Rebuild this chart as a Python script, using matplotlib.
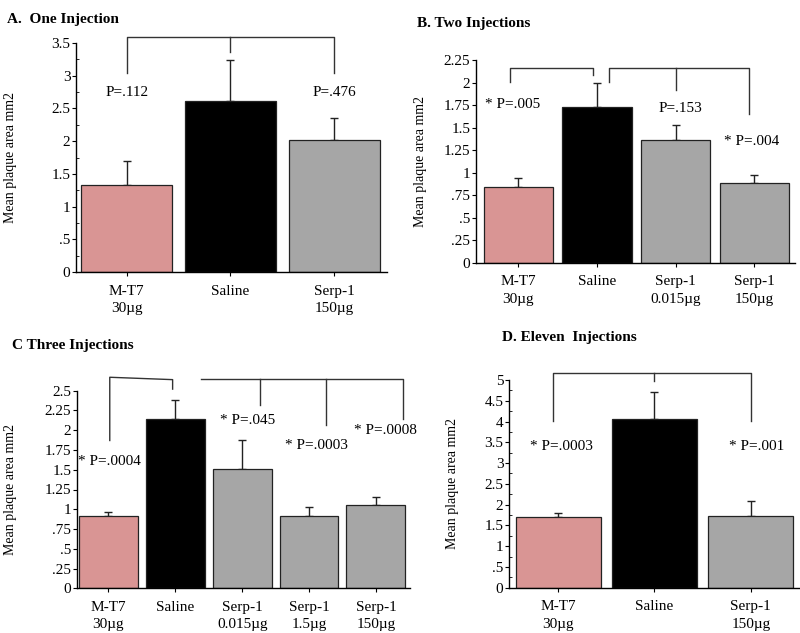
import numpy as np
import matplotlib
matplotlib.use('Agg')
import matplotlib.pyplot as plt
from matplotlib.ticker import MultipleLocator, FuncFormatter

plt.rcParams['font.family'] = ['Liberation Serif', 'DejaVu Serif']
plt.rcParams['font.size'] = 11

# Panel data
labels_a = ['M-T7\n30µg', 'Saline', 'Serp-1\n150µg']
means_a = [1.33, 2.61, 2.02]
errs_a = [0.37, 0.63, 0.33]

labels_b = ['M-T7\n30µg', 'Saline', 'Serp-1\n0.015µg', 'Serp-1\n150µg']
means_b = [0.84, 1.73, 1.36, 0.89]
errs_b = [0.10, 0.27, 0.17, 0.08]

labels_c = ['M-T7\n30µg', 'Saline', 'Serp-1\n0.015µg', 'Serp-1\n1.5µg', 'Serp-1\n150µg']
means_c = [0.92, 2.14, 1.51, 0.91, 1.05]
errs_c = [0.05, 0.24, 0.36, 0.12, 0.11]

labels_d = ['M-T7\n30µg', 'Saline', 'Serp-1\n150µg']
means_d = [1.69, 4.06, 1.73]
errs_d = [0.10, 0.66, 0.36]

colors_a = ['#d99594', '#000000', '#a6a6a6']
colors_b = ['#d99594', '#000000', '#a6a6a6', '#a6a6a6']
colors_c = ['#d99594', '#000000', '#a6a6a6', '#a6a6a6', '#a6a6a6']
colors_d = colors_a

W, H = 800, 633
fig = plt.figure(figsize=(8, 6.33), dpi=100)


def fmt(v, pos):
    if v == 0:
        return '0'
    s = '%g' % v
    if s.startswith('0.'):
        s = s[1:]
    return s


def panel(box, labels, means, errs, colors, ymax, ystep, minor, xlim, labx):
    l, r, b, t = box
    ax = fig.add_axes([l / W, 1 - b / H, (r - l) / W, (b - t) / H])
    x = np.arange(len(means))
    ax.bar(x, means, width=0.88, color=colors, edgecolor='#222222', linewidth=0.9, zorder=2)
    ax.errorbar(x, means, yerr=[np.zeros(len(errs)), errs], fmt='none',
                ecolor='#222222', elinewidth=1, capsize=3, capthick=1, zorder=1)
    ax.set_xlim(*xlim)
    ax.set_ylim(0, ymax)
    ax.yaxis.set_major_locator(MultipleLocator(ystep))
    ax.yaxis.set_minor_locator(MultipleLocator(minor))
    ax.yaxis.set_major_formatter(FuncFormatter(fmt))
    ax.set_xticks(x)
    ax.set_xticklabels(labels, fontsize=11, linespacing=1.45)
    ax.tick_params(axis='y', which='major', direction='out', length=3, pad=1, labelsize=11)
    ax.tick_params(axis='y', which='minor', direction='in', length=2)
    ax.tick_params(axis='x', direction='out', length=3, pad=6)
    for s in ['top', 'right']:
        ax.spines[s].set_visible(False)
    ax.spines['left'].set_linewidth(1)
    ax.spines['bottom'].set_linewidth(1)
    ax.set_ylabel('Mean plaque area mm2', fontsize=10)
    ax.yaxis.set_label_coords(labx, 0.5)
    return ax


def line(ax, xs, ys):
    ax.plot(xs, ys, color='#333333', lw=1, clip_on=False, zorder=3)


# A
ax = panel((76, 387, 272, 43), labels_a, means_a, errs_a, colors_a, 3.5, 0.5, 0.25, (-0.49, 2.51), -0.19)
line(ax, [0, 0, 2, 2], [3.04, 3.59, 3.59, 3.04])
line(ax, [1, 1], [3.59, 3.36])
ax.text(0, 2.74, 'P=.112', ha='center', va='center')
ax.text(2, 2.74, 'P=.476', ha='center', va='center')
fig.text(7 / W, 1 - 19 / H, 'A.  One Injection', fontweight='bold', va='center')

# B
ax = panel((476, 795, 262.7, 60), labels_b, means_b, errs_b, colors_b, 2.25, 0.25, 0.25, (-0.54, 3.52), -0.155)
line(ax, [-0.11, -0.11, 0.95, 0.95], [2.01, 2.16, 2.16, 2.08])
line(ax, [1.15, 1.15, 2.93, 2.93], [2.01, 2.16, 2.16, 1.65])
line(ax, [2.0, 2.0], [2.16, 1.92])
ax.text(-0.07, 1.76, '* P=.005', ha='center', va='center')
ax.text(2.06, 1.71, 'P=.153', ha='center', va='center')
ax.text(2.97, 1.34, '* P=.004', ha='center', va='center')
fig.text(417 / W, 1 - 23 / H, 'B. Two Injections', fontweight='bold', va='center')

# C
ax = panel((77, 410, 588.3, 390.7), labels_c, means_c, errs_c, colors_c, 2.5, 0.25, 0.25, (-0.47, 4.51), -0.18)
line(ax, [0.02, 0.02, 0.96, 0.96], [1.87, 2.67, 2.64, 2.52])
line(ax, [1.39, 4.41, 4.41], [2.65, 2.65, 2.14])
line(ax, [2.26, 2.26], [2.65, 2.32])
line(ax, [3.26, 3.26], [2.65, 2.07])
ax.text(0.01, 1.61, '* P=.0004', ha='center', va='center')
ax.text(2.08, 2.12, '* P=.045', ha='center', va='center')
ax.text(3.11, 1.81, '* P=.0003', ha='center', va='center')
ax.text(4.14, 2.00, '* P=.0008', ha='center', va='center')
fig.text(12 / W, 1 - 346 / H, 'C Three Injections', fontweight='bold', va='center')

# D
ax = panel((509, 799, 587.7, 380), labels_d, means_d, errs_d, colors_d, 5, 0.5, 0.25, (-0.51, 2.5), -0.172)
line(ax, [-0.05, -0.05, 2.0, 2.0], [4.01, 5.18, 5.18, 4.01])
line(ax, [1, 1], [5.18, 4.98])
ax.text(0.03, 3.39, '* P=.0003', ha='center', va='center')
ax.text(2.06, 3.41, '* P=.001', ha='center', va='center')
fig.text(502 / W, 1 - 337 / H, 'D. Eleven  Injections', fontweight='bold', va='center')

fig.savefig('out.png', dpi=100)
